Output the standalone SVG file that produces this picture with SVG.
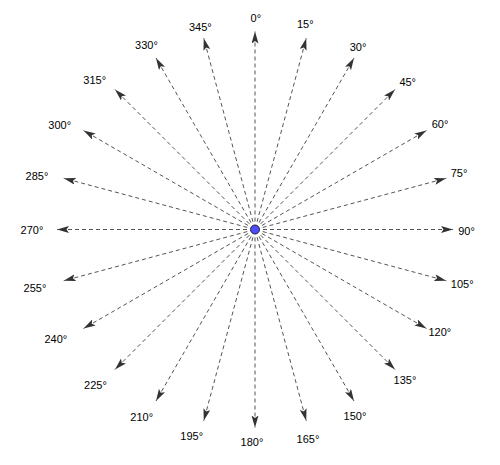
<svg xmlns="http://www.w3.org/2000/svg" width="500" height="465" viewBox="0 0 500 465">
<style>
.c line{stroke:#555;stroke-width:1;stroke-dasharray:4,3;fill:none;marker-end:url(#ah)}
.lbl text{font-family:"Liberation Sans",Arial,sans-serif;font-size:11px;fill:#000;text-anchor:middle}
</style>
<defs>
<marker id="ah" markerUnits="userSpaceOnUse" markerWidth="13" markerHeight="8" refX="12" refY="3.5" orient="auto">
<path d="M0,0 L12,3.5 L0,7 L2.5,3.5 z" fill="#333"/>
</marker>
</defs>
<rect width="500" height="465" fill="#fff"/>
<g id="connectors" class="c">
<line x1="255" y1="221.5" x2="255" y2="31.5"/>
<line x1="257.07" y1="221.77" x2="306.25" y2="38.25"/>
<line x1="259" y1="222.57" x2="354" y2="58.03"/>
<line x1="260.66" y1="223.84" x2="395.01" y2="89.49"/>
<line x1="261.93" y1="225.5" x2="426.47" y2="130.5"/>
<line x1="262.73" y1="227.43" x2="446.25" y2="178.25"/>
<line x1="263" y1="229.5" x2="453" y2="229.5"/>
<line x1="262.73" y1="231.57" x2="446.25" y2="280.75"/>
<line x1="261.93" y1="233.5" x2="426.47" y2="328.5"/>
<line x1="260.66" y1="235.16" x2="395.01" y2="369.51"/>
<line x1="259" y1="236.43" x2="354" y2="400.97"/>
<line x1="257.07" y1="237.23" x2="306.25" y2="420.75"/>
<line x1="255" y1="237.5" x2="255" y2="427.5"/>
<line x1="252.93" y1="237.23" x2="203.75" y2="420.75"/>
<line x1="251" y1="236.43" x2="156" y2="400.97"/>
<line x1="249.34" y1="235.16" x2="114.99" y2="369.51"/>
<line x1="248.07" y1="233.5" x2="83.53" y2="328.5"/>
<line x1="247.27" y1="231.57" x2="63.75" y2="280.75"/>
<line x1="247" y1="229.5" x2="57" y2="229.5"/>
<line x1="247.27" y1="227.43" x2="63.75" y2="178.25"/>
<line x1="248.07" y1="225.5" x2="83.53" y2="130.5"/>
<line x1="249.34" y1="223.84" x2="114.99" y2="89.49"/>
<line x1="251" y1="222.57" x2="156" y2="58.03"/>
<line x1="252.93" y1="221.77" x2="203.75" y2="38.25"/>
</g>
<g id="center"><circle cx="255" cy="229.5" r="4.5" fill="#4d4dff" stroke="#222" stroke-width="1"/></g>
<g class="lbl">
<g id="a0"><text x="255.8" y="22">0°</text></g>
<g id="a15"><text x="305.3" y="28">15°</text></g>
<g id="a30"><text x="358" y="50.7">30°</text></g>
<g id="a45"><text x="407.7" y="85.7">45°</text></g>
<g id="a60"><text x="440" y="128">60°</text></g>
<g id="a75"><text x="459" y="176.7">75°</text></g>
<g id="a90"><text x="466.5" y="234.7">90°</text></g>
<g id="a105"><text x="462.2" y="288">105°</text></g>
<g id="a120"><text x="439.8" y="336.3">120°</text></g>
<g id="a135"><text x="405" y="384">135°</text></g>
<g id="a150"><text x="355" y="419.7">150°</text></g>
<g id="a165"><text x="308" y="443">165°</text></g>
<g id="a180"><text x="252" y="446.3">180°</text></g>
<g id="a195"><text x="191.7" y="439.7">195°</text></g>
<g id="a210"><text x="141.7" y="420.7">210°</text></g>
<g id="a225"><text x="95.5" y="389">225°</text></g>
<g id="a240"><text x="55.8" y="343">240°</text></g>
<g id="a255"><text x="35" y="292.3">255°</text></g>
<g id="a270"><text x="32" y="234">270°</text></g>
<g id="a285"><text x="37" y="179.7">285°</text></g>
<g id="a300"><text x="59.7" y="129">300°</text></g>
<g id="a315"><text x="94.7" y="84">315°</text></g>
<g id="a330"><text x="146.5" y="49">330°</text></g>
<g id="a345"><text x="200.3" y="30.7">345°</text></g>
</g>
</svg>
